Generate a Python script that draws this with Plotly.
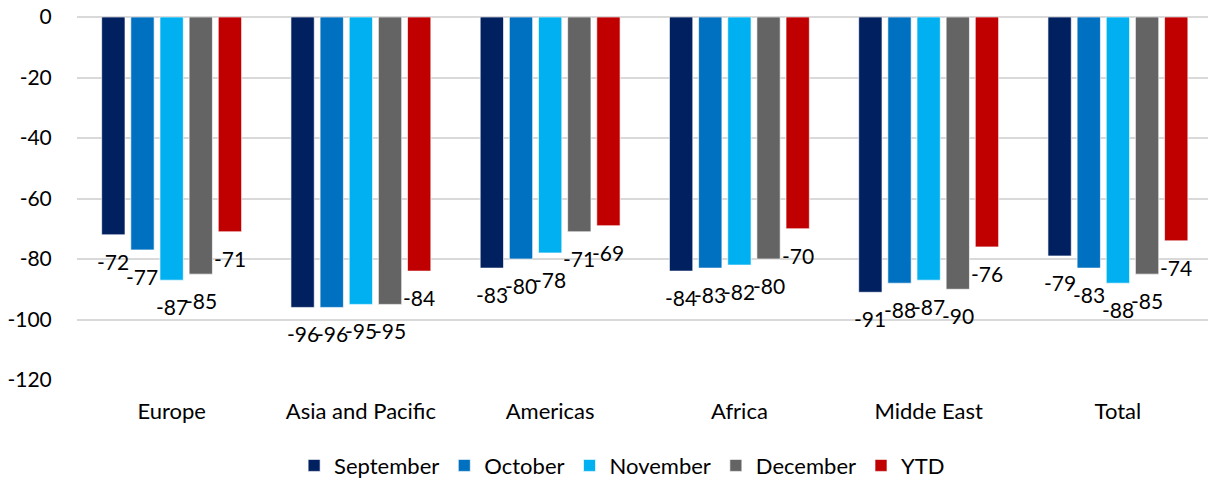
import plotly.graph_objects as go

categories = ["Europe", "Asia and Pacific", "Americas", "Africa", "Midde East", "Total"]
september = [-72, -96, -83, -84, -91, -79]
october = [-77, -96, -80, -83, -88, -83]
november = [-87, -95, -78, -82, -87, -88]
december = [-85, -95, -71, -80, -90, -85]
ytd = [-71, -84, -69, -70, -76, -74]
y_ticks = [0, -20, -40, -60, -80, -100, -120]

series = [
    ("September", september, "#002060"),
    ("October", october, "#0070C0"),
    ("November", november, "#00B0F0"),
    ("December", december, "#646464"),
    ("YTD", ytd, "#C00000"),
]

FONT = "Lato, Carlito, Calibri, sans-serif"
TXT = 21

PLOT_L, PLOT_R = 77, 1208
X_RANGE = [-0.5, 5.476]
BARGAP = 0.23
cat_px = (PLOT_R - PLOT_L) / (X_RANGE[1] - X_RANGE[0])
slot_px = cat_px * (1 - BARGAP) / len(series)

fig = go.Figure()
for i, (name, vals, color) in enumerate(series):
    fig.add_trace(go.Bar(
        name=name, x=categories, y=vals,
        marker=dict(color=color, line=dict(color="rgba(255,255,255,0.8)", width=0.8)),
    ))
    for c, v in zip(categories, vals):
        fig.add_annotation(
            x=c, y=v, xref="x", yref="y", text=str(v), showarrow=False,
            xanchor="center", yanchor="top",
            xshift=(i - (len(series) - 1) / 2) * slot_px, yshift=-12,
            font=dict(family=FONT, size=TXT, color="#000000"),
        )

fig.update_layout(
    width=1208, height=480,
    margin=dict(l=PLOT_L, r=1208 - PLOT_R, t=17, b=100),
    paper_bgcolor="white", plot_bgcolor="white",
    barmode="group", bargap=BARGAP, bargroupgap=0.2,
    font=dict(family=FONT, size=TXT, color="#000000"),
    showlegend=True,
    legend=dict(orientation="h", xref="container", x=0.515, xanchor="center",
                yref="container", y=0.03, yanchor="middle",
                font=dict(family=FONT, size=22, color="#000000"),
                itemwidth=30, traceorder="normal"),
    xaxis=dict(type="category", range=X_RANGE, showgrid=False, zeroline=False,
               showline=False, ticks="outside", ticklen=12, tickcolor="rgba(0,0,0,0)",
               tickfont=dict(family=FONT, size=22, color="#000000")),
    yaxis=dict(range=[-120, 0], tickvals=y_ticks, ticktext=[str(t) for t in y_ticks],
               showgrid=True, gridcolor="#D9D9D9", gridwidth=1.5,
               zeroline=True, zerolinecolor="#D9D9D9", zerolinewidth=1.5,
               showline=False, ticks="outside", ticklen=20, tickcolor="rgba(0,0,0,0)",
               tickfont=dict(family=FONT, size=TXT, color="#000000")),
)

fig.write_html("out.html")
